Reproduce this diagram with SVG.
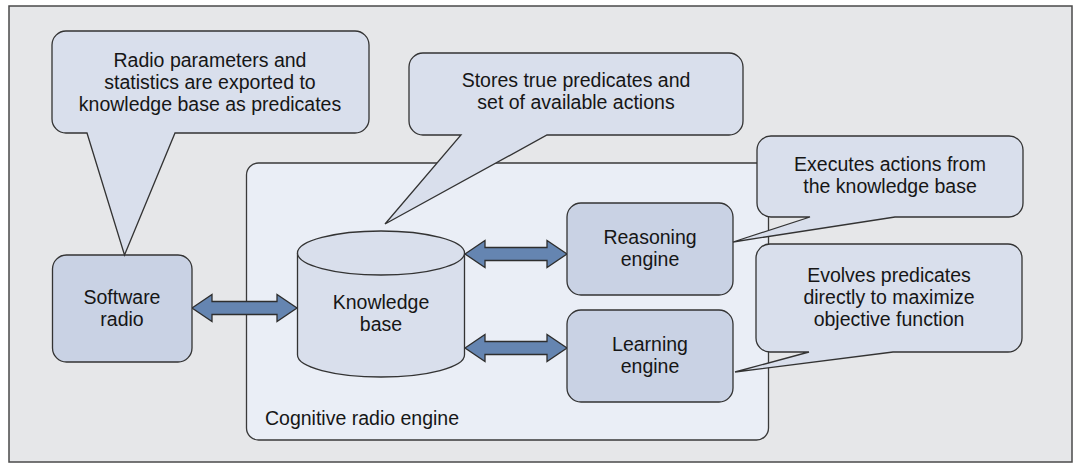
<svg xmlns="http://www.w3.org/2000/svg" width="1080" height="464" viewBox="0 0 1080 464">
  <style>
    .frame { fill: #e6e7e9; stroke: #4a4a4a; stroke-width: 1.5; }
    .engine { fill: #eaeef6; stroke: #3a3a3a; stroke-width: 1.3; }
    .node { fill: #c9d2e4; stroke: #333333; stroke-width: 1.3; }
    .store { fill: #d9dfec; stroke: #333333; stroke-width: 1.3; }
    .callout { fill: #d9dfec; stroke: #333333; stroke-width: 1.3; stroke-linejoin: miter; }
    .arrow { fill: #6585b1; stroke: #2e2e2e; stroke-width: 1.3; stroke-linejoin: miter; }
    text { font-family: "Liberation Sans", Arial, sans-serif; font-size: 19.5px; fill: #161616; }
    .c { text-anchor: middle; }
  </style>

  <!-- outer panel -->
  <rect class="frame" x="9" y="6" width="1063" height="456"/>

  <!-- cognitive radio engine container -->
  <g id="cognitive-radio-engine">
    <rect class="engine" x="246.5" y="163" width="522" height="277" rx="12" ry="12"/>
    <text x="265" y="425">Cognitive radio engine</text>
  </g>

  <!-- double-headed connectors -->
  <g id="connectors">
    <polygon class="arrow" points="192,308 212,294.5 212,301.5 277,301.5 277,294.5 297,308 277,321.5 277,314.5 212,314.5 212,321.5"/>
    <polygon class="arrow" points="465,254 485,240.5 485,247.5 547,247.5 547,240.5 567,254 547,267.5 547,260.5 485,260.5 485,267.5"/>
    <polygon class="arrow" points="465,348 485,334.5 485,341.5 547,341.5 547,334.5 567,348 547,361.5 547,354.5 485,354.5 485,361.5"/>
  </g>

  <g id="software-radio">
    <rect class="node" x="52.5" y="255" width="139.5" height="107" rx="14" ry="14"/>
    <text class="c" x="122" y="304">Software</text>
    <text class="c" x="122" y="326">radio</text>
  </g>

  <g id="knowledge-base">
    <path class="store" d="M297.5,253 V355 A83.5,22 0 0 0 464.5,355 V253"/>
    <ellipse class="store" cx="381" cy="253" rx="83.5" ry="22"/>
    <text class="c" x="381" y="309">Knowledge</text>
    <text class="c" x="381" y="331">base</text>
  </g>

  <g id="reasoning-engine">
    <rect class="node" x="567" y="203" width="166" height="92" rx="14" ry="14"/>
    <text class="c" x="650" y="244">Reasoning</text>
    <text class="c" x="650" y="266">engine</text>
  </g>

  <g id="learning-engine">
    <rect class="node" x="567" y="310" width="166" height="92" rx="14" ry="14"/>
    <text class="c" x="650" y="351">Learning</text>
    <text class="c" x="650" y="373">engine</text>
  </g>

  <!-- speech-bubble annotations -->
  <g id="note-radio-parameters">
    <path class="callout" d="M66,31 H355 A14,14 0 0 1 369,45 V119 A14,14 0 0 1 355,133 H175 L124.5,255 L87,133 H66 A14,14 0 0 1 52,119 V45 A14,14 0 0 1 66,31 Z"/>
    <text class="c" x="210" y="67">Radio parameters and</text>
    <text class="c" x="210" y="89">statistics are exported to</text>
    <text class="c" x="210" y="111">knowledge base as predicates</text>
  </g>

  <g id="note-knowledge-base">
    <path class="callout" d="M423,53 H729 A14,14 0 0 1 743,67 V121 A14,14 0 0 1 729,135 H547 L385,224 L461,135 H423 A14,14 0 0 1 409,121 V67 A14,14 0 0 1 423,53 Z"/>
    <text class="c" x="576" y="87">Stores true predicates and</text>
    <text class="c" x="576" y="109">set of available actions</text>
  </g>

  <g id="note-reasoning-engine">
    <path class="callout" d="M771,136 H1009 A14,14 0 0 1 1023,150 V203 A14,14 0 0 1 1009,217 H895 L733,242 L810,217 H771 A14,14 0 0 1 757,203 V150 A14,14 0 0 1 771,136 Z"/>
    <text class="c" x="890" y="171">Executes actions from</text>
    <text class="c" x="890" y="193">the knowledge base</text>
  </g>

  <g id="note-learning-engine">
    <path class="callout" d="M770,244 H1008 A14,14 0 0 1 1022,258 V338 A14,14 0 0 1 1008,352 H893 L735,372 L809,352 H770 A14,14 0 0 1 756,338 V258 A14,14 0 0 1 770,244 Z"/>
    <text class="c" x="889" y="282">Evolves predicates</text>
    <text class="c" x="889" y="304">directly to maximize</text>
    <text class="c" x="889" y="326">objective function</text>
  </g>
</svg>
